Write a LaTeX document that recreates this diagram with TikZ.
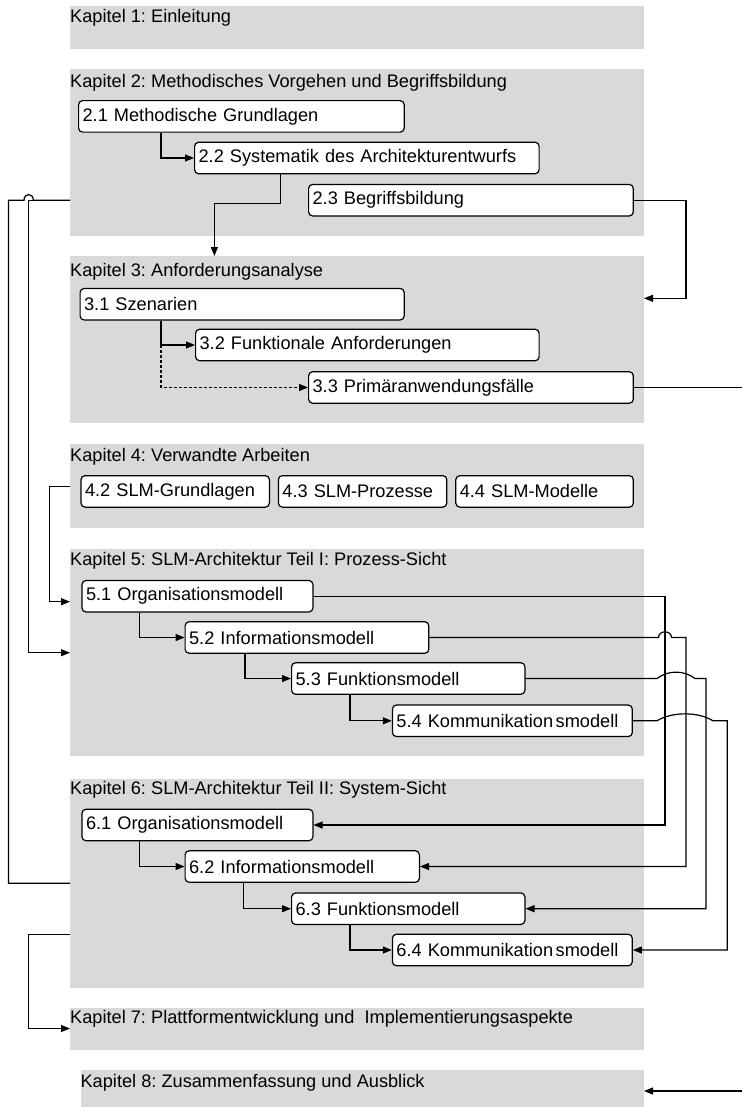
\documentclass[tikz,border=0pt]{standalone}
\usepackage{fontspec}
\setmainfont{Liberation Sans}
\usetikzlibrary{arrows.meta,calc}
\definecolor{chapgray}{RGB}{217,217,217}
\frenchspacing
\begin{document}
\begin{tikzpicture}[x=1pt,y=-1pt,
  every node/.style={font=\fontsize{18.2}{21}\selectfont},
  chap/.style={fill=chapgray, inner sep=0pt, anchor=north west, minimum width=573.6pt},
  ctitle/.style={anchor=base west, inner sep=0pt},
  sec/.style={draw, line width=1.2pt, rounded corners=4pt, fill=white, anchor=west,
    inner xsep=4pt, inner ysep=0pt, minimum height=31.5pt, align=left},
  link/.style={line width=1.2pt},
  arr/.style={link, -{Triangle[length=9pt,width=7pt]}},
  dashlink/.style={arr, dash pattern=on 3pt off 2pt}]
\useasboundingbox (0,0) rectangle (742,1107);

% chapter areas
\node[chap, minimum height=43pt]    (k1) at (70,6) {};
\node[chap, minimum height=167pt]   (k2) at (70,69) {};
\node[chap, minimum height=166.7pt] (k3) at (70,256) {};
\node[chap, minimum height=83.7pt]  (k4) at (70,444) {};
\node[chap, minimum height=207pt]   (k5) at (70,549) {};
\node[chap, minimum height=209.4pt] (k6) at (70,778.3) {};
\node[chap, minimum height=42pt]    (k7) at (70,1007.3) {};
\node[chap, minimum height=37pt, minimum width=563.2pt] (k8) at (80.4,1070) {};

% chapter titles
\node[ctitle] (t1) at (70,23) {Kapitel 1: Einleitung};
\node[ctitle] (t2) at (70,87.8) {Kapitel 2: Methodisches Vorgehen und Begriffsbildung};
\node[ctitle] (t3) at (70,276.3) {Kapitel 3: Anforderungsanalyse};
\node[ctitle] (t4) at (70,461.3) {Kapitel 4: Verwandte Arbeiten};
\node[ctitle] (t5) at (70,565.4) {Kapitel 5: SLM-Architektur Teil I: Prozess-Sicht};
\node[ctitle] (t6) at (70,794.4) {Kapitel 6: SLM-Architektur Teil II: System-Sicht};
\node[ctitle] (t7) at (70,1023) {Kapitel 7: Plattformentwicklung und\ \ Implementierungsaspekte};
\node[ctitle] (t8) at (80.4,1087) {Kapitel 8: Zusammenfassung und Ausblick};

% sections
\node[sec, text width=317.6pt] (b21) at (78,116.4)  {2.1 Methodische Grundlagen};
\node[sec, text width=336.5pt] (b22) at (194,158)   {2.2 Systematik des Architekturentwurfs};
\node[sec, text width=316.7pt] (b23) at (308,200.2) {2.3 Begriffsbildung};

\node[sec, text width=316.1pt] (b31) at (79.5,304.2) {3.1 Szenarien};
\node[sec, text width=335.5pt] (b32) at (195,345)    {3.2 Funktionale Anforderungen};
\node[sec, text width=316.7pt] (b33) at (308,387.5)  {3.3 Primäranwendungsfälle};

\node[sec, text width=180.4pt] (b42) at (80.4,491.4)  {4.2 SLM-Grundlagen};
\node[sec, text width=160.4pt] (b43) at (277.8,491.4) {4.3 SLM-Prozesse};
\node[sec, text width=169.5pt] (b44) at (455.2,491.4) {4.4 SLM-Modelle};

\node[sec, text width=222.9pt] (b51) at (81.4,596.2)  {5.1 Organisationsmodell};
\node[sec, text width=235.7pt] (b52) at (184.5,637.5) {5.2 Informationsmodell};
\node[sec, text width=225.3pt] (b53) at (291,678.5)   {5.3 Funktionsmodell};
\node[sec, text width=231.9pt] (b54) at (391.8,720.8) {5.4 Kommunikation\kern2.5pt smodell};

\node[sec, text width=222.9pt] (b61) at (81.4,825)    {6.1 Organisationsmodell};
\node[sec, text width=226.3pt] (b62) at (184.5,866.5) {6.2 Informationsmodell};
\node[sec, text width=225.3pt] (b63) at (291,908.7)   {6.3 Funktionsmodell};
\node[sec, text width=231.9pt] (b64) at (391.8,950)   {6.4 Kommunikation\kern2.5pt smodell};

% free ends at the right border
\coordinate (e1) at (742,387.5);
\coordinate (e2) at (742,1091);

% chapter 2
\draw[arr] ($(b21.south west)+(83,0)$) |- (b22.west);
\draw[arr] ($(b22.south west)+(86.6,0)$) -- ++(0,29.5) -| ($(k3.north west)+(144.4,0)$);
\draw[arr] (b23.east) -| (686,298.3) -- ($(k3.north east)+(0,42.3)$);

% long links on the left
\draw[link] (k2.west |- b23.west) -- (33.3,200.2)
  .. controls (33.3,192.6) and (24,192.6) .. (24,200.2)
  -- (8.5,200.2) |- (k6.west);
\draw[arr] (k2.west |- b23.west) -- (28.4,200.2) |- (k5.west);
\draw[arr] ($(k4.north west)+(0,42.7)$) -- (49.7,486.7) |- ($(k5.north west)+(0,52.7)$);
\draw[arr] ($(k6.north west)+(0,156)$) -| (28.4,1000) |- (k7.west);

% chapter 3
\draw[arr] ($(b31.south west)+(81.5,0)$) |- (b32.west);
\draw[dashlink] ($(b32.west)+(-34,0)$) |- (b33.west);
\draw[link] (b33.east) -- (e1);

% chapter 5
\draw[arr] ($(b51.south west)+(58.2,0)$) |- (b52.west);
\draw[arr] ($(b52.south west)+(60.5,0)$) |- (b53.west);
\draw[arr] ($(b53.south west)+(59,0)$) |- (b54.west);

% chapter 6
\draw[arr] ($(b61.south west)+(58.2,0)$) |- (b62.west);
\draw[arr] ($(b62.south west)+(59.2,0)$) |- (b63.west);
\draw[arr] ($(b63.south west)+(59,0)$) |- (b64.west);

% process view to system view
\draw[arr] (b51.east) -| (665,700) |- (b61.east);
\draw[arr] (b52.east) -- (658.5,637.5)
  .. controls (658.5,630) and (671.5,630) .. (671.5,637.5)
  -| (686,750) |- (b62.east);
\draw[arr] (b53.east) -- (657,678.5)
  .. controls (668,670) and (684,670) .. (695,678.5)
  -| (706,800) |- (b63.east);
\draw[arr] (b54.east) -- (657,720.8)
  .. controls (672,711.5) and (698,711.5) .. (713,720.8)
  -| (727.3,850) |- (b64.east);

% chapter 8
\draw[arr] (e2) -- (k8.east |- e2);
\end{tikzpicture}
\end{document}
